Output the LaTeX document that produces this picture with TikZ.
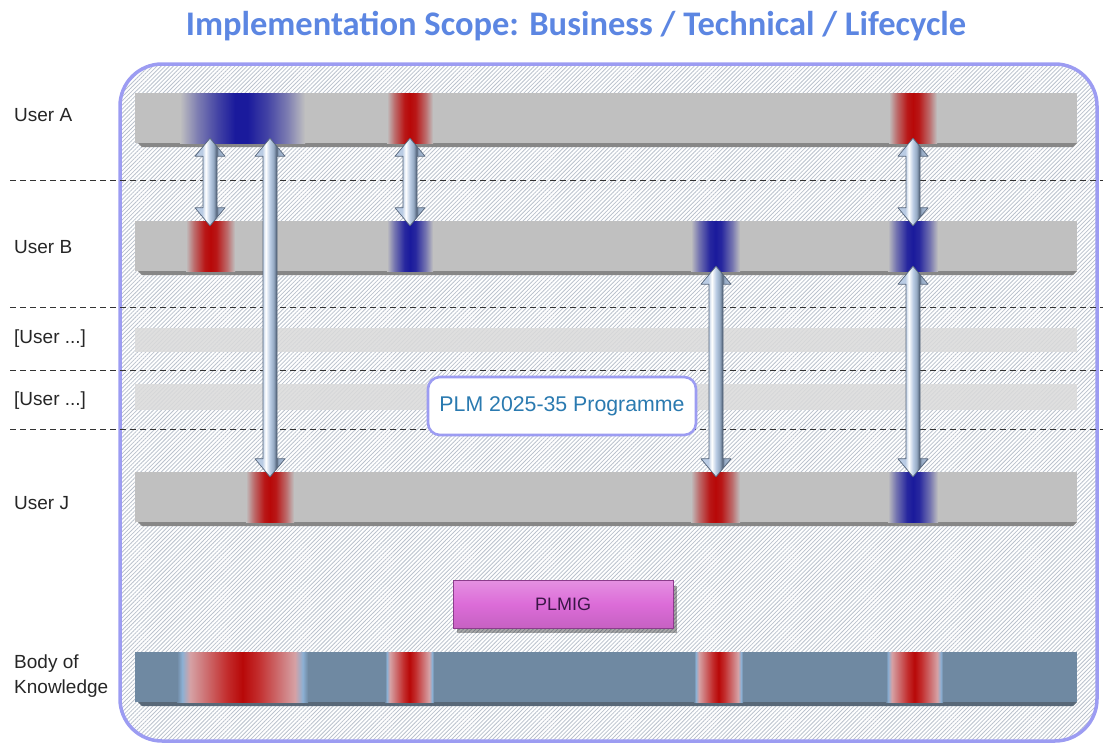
\documentclass[tikz,border=0pt]{standalone}
\usepackage{fontspec}
\setmainfont{Liberation Sans}
\newfontfamily\titlefont{Carlito}
\usetikzlibrary{patterns.meta,calc}

\definecolor{titleblue}{RGB}{92,134,226}
\definecolor{frame}{RGB}{156,156,242}
\definecolor{hatch}{RGB}{186,194,205}
\definecolor{barg}{RGB}{192,192,192}
\definecolor{barshadow}{RGB}{135,135,135}
\definecolor{faint}{RGB}{218,218,218}
\definecolor{slate}{RGB}{111,137,162}
\definecolor{slateshadow}{RGB}{88,104,120}
\definecolor{edgeblue}{RGB}{140,176,212}
\definecolor{deepred}{RGB}{184,8,8}
\definecolor{deepblue}{RGB}{26,26,156}
\definecolor{progtext}{RGB}{42,122,176}
\definecolor{plmigfill}{RGB}{220,108,216}
\definecolor{plmigedge}{RGB}{140,60,140}
\definecolor{plmigtext}{RGB}{58,22,70}
\definecolor{arrowline}{RGB}{84,100,122}
\definecolor{arrowlight}{RGB}{186,204,228}
\definecolor{arrowmid}{RGB}{150,170,196}

% band shadings across a bar (visible range 25bp..75bp)
\pgfdeclarehorizontalshading{gred}{100bp}{color(0bp)=(barg); color(25bp)=(barg); color(33bp)=(barg!55!deepred); color(44bp)=(deepred!92!barg); color(50bp)=(deepred); color(56bp)=(deepred!92!barg); color(67bp)=(barg!55!deepred); color(75bp)=(barg); color(100bp)=(barg)}
\pgfdeclarehorizontalshading{gblue}{100bp}{color(0bp)=(barg); color(25bp)=(barg); color(33bp)=(barg!55!deepblue); color(44bp)=(deepblue!92!barg); color(50bp)=(deepblue); color(56bp)=(deepblue!92!barg); color(67bp)=(barg!55!deepblue); color(75bp)=(barg); color(100bp)=(barg)}
\pgfdeclarehorizontalshading{gbluewide}{100bp}{color(0bp)=(barg); color(25bp)=(barg); color(32bp)=(barg!60!deepblue); color(40bp)=(barg!25!deepblue); color(47bp)=(deepblue); color(52bp)=(deepblue); color(60bp)=(barg!25!deepblue); color(68bp)=(barg!60!deepblue); color(75bp)=(barg); color(100bp)=(barg)}
\pgfdeclarehorizontalshading{sred}{100bp}{color(0bp)=(slate); color(25bp)=(slate); color(27bp)=(edgeblue); color(30bp)=(slate!30!deepred!45!white); color(44bp)=(deepred!85!white); color(50bp)=(deepred); color(56bp)=(deepred!85!white); color(70bp)=(slate!30!deepred!45!white); color(73bp)=(edgeblue); color(75bp)=(slate); color(100bp)=(slate)}
\pgfdeclarehorizontalshading{arrowshade}{100bp}{color(0bp)=(arrowlight); color(25bp)=(arrowlight); color(37bp)=(arrowlight); color(43bp)=(white); color(50bp)=(arrowlight); color(56bp)=(arrowmid); color(61bp)=(arrowline); color(64bp)=(arrowmid); color(75bp)=(arrowlight!70!arrowmid); color(100bp)=(arrowlight!70!arrowmid)}

\tikzset{
  bar/.style={fill=barg, draw=none, inner sep=0pt, minimum width=942, minimum height=50},
  bokbar/.style={bar, fill=slate},
  faintbar/.style={fill=faint, fill opacity=0.85, draw=none, inner sep=0pt, minimum width=942},
  sep/.style={dash pattern=on 6pt off 4pt, line width=0.9pt, black!80},
  rowlabel/.style={anchor=west, inner sep=0pt, font=\fontsize{19}{23}\selectfont, text=black!85, align=left},
  arrowbody/.style={draw=arrowline, line width=0.7pt, shading=arrowshade, line join=round},
  progbox/.style={draw=frame, line width=2.6pt, fill=white, rounded corners=12pt,
    minimum width=268, minimum height=58, text=progtext, font=\fontsize{21.3}{25}\selectfont},
  plmigbox/.style={draw=plmigedge, line width=0.8pt, top color=plmigfill!75!white, bottom color=plmigfill!90!black,
    middle color=plmigfill, minimum width=220, minimum height=48, text=plmigtext, font=\fontsize{18}{21}\selectfont},
}

% double-headed link between two points on one vertical line
\newcommand\linkarrow[2]{%
  \path[arrowbody] let \p1=(#1), \p2=(#2) in
    (\x1,\y1+5pt) -- ++(15pt,-18pt) -- ++(-8pt,0pt) -- (\x1+7pt,\y2+13pt)
    -- ++(8pt,0pt) -- (\x1,\y2-5pt) -- ++(-15pt,18pt) -- ++(8pt,0pt)
    -- (\x1-7pt,\y1-13pt) -- ++(-8pt,0pt) -- cycle;
}
% soft colour band across a bar
\newcommand\band[4]{\shade[shading=#1] (#2,#3) rectangle (#4);}

\begin{document}
\begin{tikzpicture}[x=1pt,y=-1pt]
\useasboundingbox (0,0) rectangle (1103,744);

% title
\node[font=\titlefont\bfseries\fontsize{34.5}{38}\selectfont, text=titleblue] (title) at (576,26)
  {Implementation Scope: Business / Technical / Lifecycle};

% framed, hatched scope area
\fill[white, rounded corners=42pt] (120,64) rectangle (1097,741);
\pattern[pattern={Lines[angle=45,distance=2.9pt,line width=0.8pt]}, pattern color=hatch, rounded corners=42pt]
  (120,64) rectangle (1097,741);
\draw[frame, line width=3.5pt, rounded corners=42pt] (120,64) rectangle (1097,741);

% row separators
\foreach \yy in {180,307,370,429} \draw[sep] (10,\yy) -- (1103,\yy);

% bar shadows
\foreach \yt in {143,271,522} \fill[barshadow] (138,\yt) -- (1077,\yt) -- (1073,\yt+4) -- (142,\yt+4) -- cycle;
\fill[slateshadow] (138,702) -- (1077,702) -- (1073,706) -- (142,706) -- cycle;

% user bars
\node[bar] (ua) at (606,118) {};
\node[bar] (ub) at (606,246) {};
\node[faintbar, minimum height=24] (uc) at (606,340) {};
\node[faintbar, minimum height=26] (ud) at (606,397) {};
\node[bar] (uj) at (606,497) {};
\node[bokbar] (bok) at (606,677) {};

% colour bands: User A
\band{gbluewide}{180}{93}{305,143}
\band{gred}{387}{93}{433,143}
\band{gred}{889}{93}{937,143}
% User B
\band{gred}{186}{221}{235,271}
\band{gblue}{387}{221}{433,271}
\band{gblue}{691}{221}{740,271}
\band{gblue}{888}{221}{938,271}
% User J
\band{gred}{246}{472}{294,522}
\band{gred}{691}{472}{740,522}
\band{gblue}{888}{472}{938,522}
% Body of Knowledge
\band{sred}{177}{652}{308,702}
\band{sred}{385}{652}{434,702}
\band{sred}{694}{652}{743,702}
\band{sred}{886}{652}{943,702}

% link columns
\coordinate (k1) at (210,0);
\coordinate (k2) at (270,0);
\coordinate (k3) at (410,0);
\coordinate (k4) at (913,0);
\coordinate (k5) at (716,0);

% links between users
\linkarrow{ua.south -| k1}{ub.north -| k1}
\linkarrow{ua.south -| k2}{uj.north -| k2}
\linkarrow{ua.south -| k3}{ub.north -| k3}
\linkarrow{ua.south -| k4}{ub.north -| k4}
\linkarrow{ub.south -| k5}{uj.north -| k5}
\linkarrow{ub.south -| k4}{uj.north -| k4}

% programme label
\node[progbox] (prog) at (562,406) {PLM 2025-35 Programme};

% PLMIG block with its shadow
\fill[black, opacity=0.35] (457,586) rectangle (677,633);
\node[plmigbox] (plmig) at (563,604) {PLMIG};

% row labels
\node[rowlabel] (la) at (14,115) {User A};
\node[rowlabel] (lb) at (14,247) {User B};
\node[rowlabel] (lc) at (14,339) {[User ...]};
\node[rowlabel] (ld) at (14,401) {[User ...]};
\node[rowlabel] (lj) at (14,503) {User J};
\node[rowlabel, font=\fontsize{19}{25}\selectfont] (lk) at (14,676) {Body of\\Knowledge};
\end{tikzpicture}
\end{document}
